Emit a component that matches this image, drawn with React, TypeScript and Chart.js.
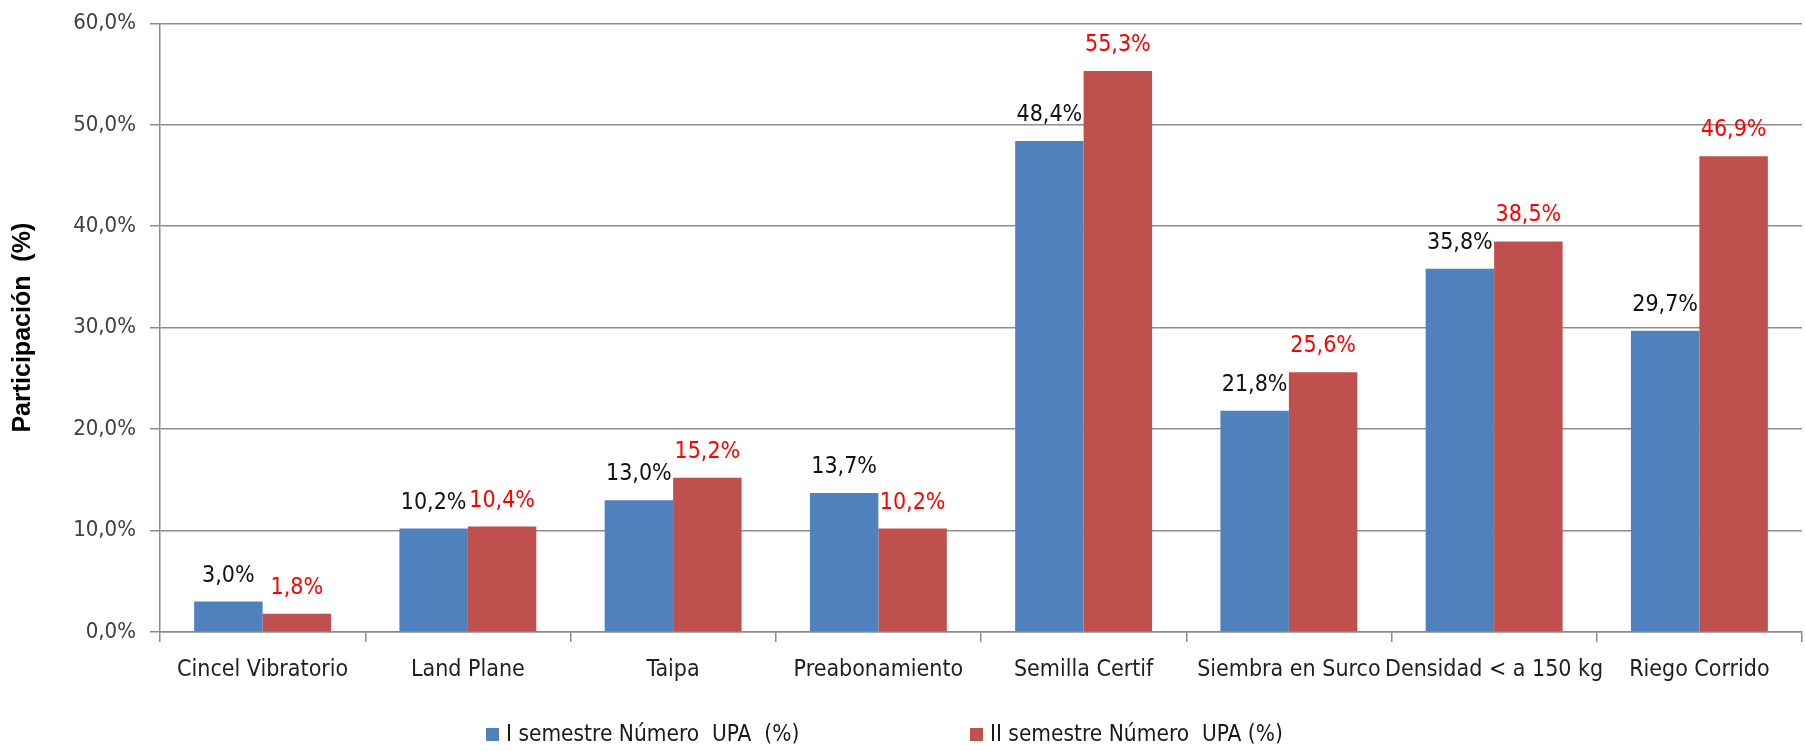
import React, { useEffect, useRef } from 'react';
import { Chart, registerables } from 'chart.js';

Chart.register(...registerables);

const categories = [
  'Cincel Vibratorio',
  'Land Plane',
  'Taipa',
  'Preabonamiento',
  'Semilla Certif',
  'Siembra en Surco',
  'Densidad < a 150 kg',
  'Riego Corrido',
];
const seriesNames = ['I semestre Número  UPA  (%)', 'II semestre Número  UPA (%)'];
const semester1 = [3.0, 10.2, 13.0, 13.7, 48.4, 21.8, 35.8, 29.7];
const semester2 = [1.8, 10.4, 15.2, 10.2, 55.3, 25.6, 38.5, 46.9];
const yTickValues = [0, 10, 20, 30, 40, 50, 60];
const yTitle = 'Participación  (%)';

const COLORS = ['#4F81BD', '#C0504D'];
const LABEL_COLORS = ['#111111', '#FF0000'];
const NARROW = '"DejaVu Sans Condensed", "Liberation Sans Narrow", sans-serif';
const GRID = '#8c8c8c';

const fmt = (v: number) => v.toFixed(1).replace('.', ',') + '%';

const dataLabelPlugin = {
  id: 'dataLabels',
  afterDatasetsDraw(chart: any) {
    const ctx = chart.ctx;
    ctx.save();
    ctx.font = `23px ${NARROW}`;
    ctx.textAlign = 'center';
    ctx.textBaseline = 'alphabetic';
    chart.data.datasets.forEach((ds: any, i: number) => {
      const meta = chart.getDatasetMeta(i);
      ctx.fillStyle = LABEL_COLORS[i];
      meta.data.forEach((el: any, j: number) => {
        ctx.fillText(fmt(ds.data[j]), el.x, el.y - 20);
      });
    });
    ctx.restore();
  },
};

const legendPlugin = {
  id: 'customLegend',
  afterDraw(chart: any) {
    const ctx = chart.ctx;
    ctx.save();
    ctx.font = `22.5px ${NARROW}`;
    ctx.textBaseline = 'middle';
    ctx.textAlign = 'left';
    const starts = [486, 970];
    const yc = 735;
    chart.data.datasets.forEach((ds: any, i: number) => {
      const x = starts[i];
      ctx.fillStyle = COLORS[i];
      ctx.fillRect(x, yc - 7, 13, 13);
      ctx.fillStyle = '#1a1a1a';
      ctx.fillText(ds.label, x + 20, yc);
    });
    ctx.restore();
  },
};

export default function App() {
  const ref = useRef<HTMLCanvasElement>(null);
  useEffect(() => {
    if (!ref.current) return;
    const chart = new Chart(ref.current, {
      type: 'bar',
      data: {
        labels: categories,
        datasets: [
          {
            label: seriesNames[0],
            data: semester1,
            backgroundColor: COLORS[0],
            categoryPercentage: 0.667,
            barPercentage: 1.0,
          },
          {
            label: seriesNames[1],
            data: semester2,
            backgroundColor: COLORS[1],
            categoryPercentage: 0.667,
            barPercentage: 1.0,
          },
        ],
      },
      options: {
        responsive: false,
        animation: false,
        layout: { padding: { left: 0, right: 3, top: 0, bottom: 0 } },
        plugins: {
          legend: { display: false },
          tooltip: { enabled: false },
          title: { display: false },
        },
        scales: {
          x: {
            grid: {
              display: true,
              drawOnChartArea: false,
              drawTicks: true,
              tickLength: 10,
              color: GRID,
              lineWidth: 1.5,
              offset: true,
            },
            border: { display: true, color: GRID, width: 1.5 },
            ticks: {
              autoSkip: false,
              maxRotation: 0,
              minRotation: 0,
              padding: 14,
              color: '#1f1f1f',
              font: { family: NARROW, size: 23 },
            },
            afterFit(scale: any) {
              scale.height = 119;
            },
          },
          y: {
            min: 0,
            max: 60,
            afterBuildTicks(scale: any) {
              scale.ticks = yTickValues.map((v) => ({ value: v }));
            },
            grid: {
              color: GRID,
              lineWidth: 1.5,
              drawTicks: true,
              tickLength: 10,
            },
            border: { display: true, color: GRID, width: 1.5 },
            ticks: {
              padding: 14,
              color: '#404040',
              font: { family: NARROW, size: 22, lineHeight: 0.85 },
              callback: (v: any) => fmt(Number(v)),
            },
            title: {
              display: true,
              text: yTitle,
              color: '#000',
              font: { family: '"Liberation Sans", Arial, sans-serif', size: 25, weight: 'bold' },
              padding: { top: 8, bottom: 0 },
            },
            afterFit(scale: any) {
              scale.width = 160;
            },
          },
        },
      },
      plugins: [dataLabelPlugin, legendPlugin],
    });
    return () => chart.destroy();
  }, []);

  return (
    <div style={{ position: 'absolute', left: 0, top: 0, width: 1805, height: 751, background: '#fff' }}>
      <canvas ref={ref} width={1805} height={751} style={{ display: 'block' }} />
    </div>
  );
}
